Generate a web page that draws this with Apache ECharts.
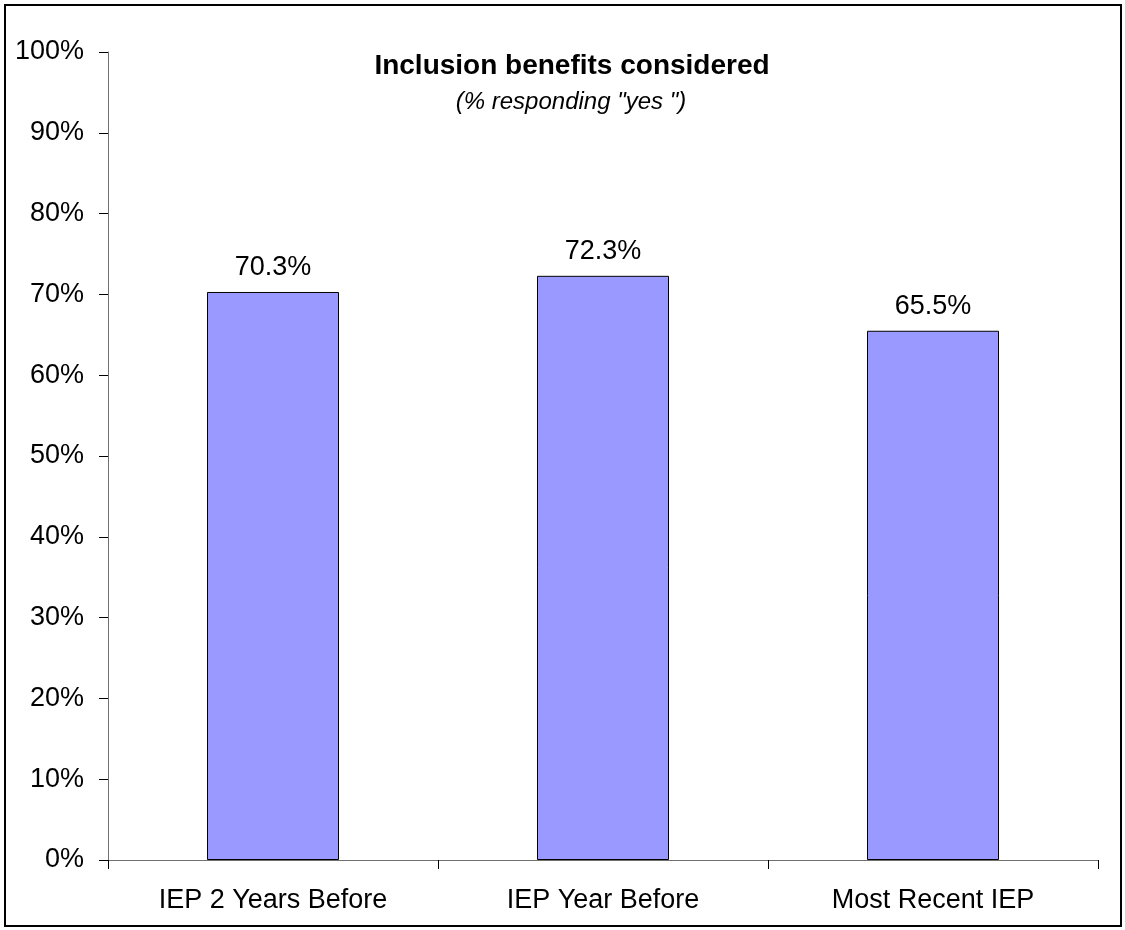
<!DOCTYPE html>
<html>
<head>
<meta charset="utf-8">
<script src="https://cdn.jsdelivr.net/npm/echarts@6/dist/echarts.min.js"></script>
<style>
  html, body { margin: 0; padding: 0; background: #fff; }
  #chart { width: 1125px; height: 930px; }
</style>
</head>
<body>
<div id="chart"></div>
<script>
// Survey results: share of respondents answering "yes"
const categories = ['IEP 2 Years Before', 'IEP Year Before', 'Most Recent IEP'];
const yesShare = [70.3, 72.3, 65.5];
const yTicks = [0, 10, 20, 30, 40, 50, 60, 70, 80, 90, 100];

const font = '"Liberation Sans", Arial, sans-serif';
const chart = echarts.init(document.getElementById('chart'));

chart.setOption({
  backgroundColor: '#ffffff',
  animation: false,
  graphic: [
    {
      type: 'rect',
      shape: { x: 5, y: 5, width: 1116, height: 921 },
      style: { fill: 'none', stroke: '#000', lineWidth: 2 },
      silent: true
    }
  ],
  title: [
    {
      text: 'Inclusion benefits considered',
      left: 567, top: 47, textAlign: 'center',
      textStyle: { fontFamily: font, fontSize: 28, fontWeight: 'bold', color: '#000' }
    },
    {
      text: '(% responding "yes ")',
      left: 566, top: 85, textAlign: 'center',
      textStyle: { fontFamily: font, fontSize: 24, fontStyle: 'italic', fontWeight: 'normal', color: '#000' }
    }
  ],
  grid: { left: 108, right: 27, top: 52, bottom: 70, containLabel: false },
  xAxis: {
    type: 'category',
    data: categories,
    axisLine: { lineStyle: { color: '#707070', width: 1 } },
    axisTick: { show: true, length: 9, inside: false, lineStyle: { color: '#000' } },
    axisLabel: { fontFamily: font, fontSize: 27, color: '#000', margin: 27 },
    splitLine: { show: false }
  },
  yAxis: {
    type: 'value',
    min: yTicks[0], max: yTicks[yTicks.length - 1], interval: 10,
    axisLine: { show: true, lineStyle: { color: '#707070', width: 1 } },
    axisTick: { show: true, length: 9, lineStyle: { color: '#000' } },
    axisLabel: { fontFamily: font, fontSize: 27, color: '#000', margin: 24, formatter: v => v + '%' },
    splitLine: { show: false }
  },
  series: [
    {
      type: 'bar',
      data: yesShare,
      barWidth: '40%',
      itemStyle: { color: '#9999FF', borderColor: '#000', borderWidth: 1 },
      label: {
        show: true, position: 'top', distance: 11,
        fontFamily: font, fontSize: 27, color: '#000',
        formatter: p => p.value.toFixed(1) + '%'
      }
    }
  ]
});
</script>
</body>
</html>
